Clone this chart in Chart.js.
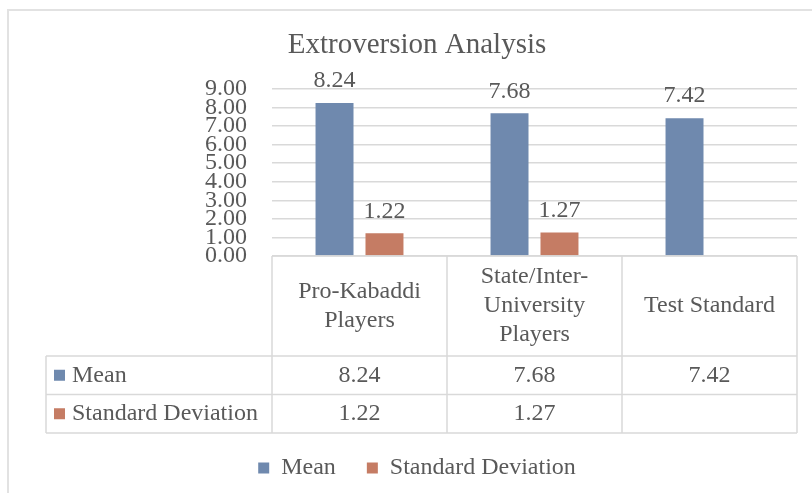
<!DOCTYPE html>
<html>
<head>
<meta charset="utf-8">
<script src="https://cdn.jsdelivr.net/npm/chart.js@4.4.1/dist/chart.umd.min.js"></script>
<style>
  html, body { margin: 0; padding: 0; background: #ffffff; }
  #wrap { width: 812px; height: 493px; position: relative; }
</style>
</head>
<body>
<div id="wrap"><canvas id="chart" width="812" height="493"></canvas></div>
<script>
// Groups compared (multi-line labels as shown in the table header)
const categories = [
  ['Pro-Kabaddi', 'Players'],
  ['State/Inter-', 'University', 'Players'],
  ['Test Standard']
];
const seriesNames = ['Mean', 'Standard Deviation'];
const meanValues = [8.24, 7.68, 7.42];
const sdValues = [1.22, 1.27, null];
const yTickValues = [0, 1, 2, 3, 4, 5, 6, 7, 8, 9];

const TEXT = '#595959';
const LINE = '#d9d9d9';
const SERIF = "'Liberation Serif', 'Times New Roman', serif";
const COLORS = ['#6f89ae', '#c57c64'];

Chart.defaults.font.family = SERIF;
Chart.defaults.color = TEXT;

const fmt = v => (v === null || v === undefined) ? '' : Number(v).toFixed(2);

// Outer frame of the chart object
const framePlugin = {
  id: 'frame',
  beforeDraw(chart) {
    const ctx = chart.ctx;
    ctx.save();
    ctx.strokeStyle = '#e2e2e2';
    ctx.lineWidth = 2;
    ctx.beginPath();
    ctx.moveTo(8, chart.height);
    ctx.lineTo(8, 10);
    ctx.lineTo(chart.width, 10);
    ctx.stroke();
    ctx.restore();
  }
};

// Value labels above each bar
const valueLabels = {
  id: 'valueLabels',
  afterDatasetsDraw(chart) {
    const ctx = chart.ctx;
    ctx.save();
    ctx.font = '24px ' + SERIF;
    ctx.fillStyle = TEXT;
    ctx.textAlign = 'center';
    ctx.textBaseline = 'middle';
    chart.data.datasets.forEach((ds, di) => {
      const meta = chart.getDatasetMeta(di);
      meta.data.forEach((bar, i) => {
        const v = ds.data[i];
        if (v === null || v === undefined) return;
        ctx.fillText(fmt(v), bar.x, bar.y - 22);
      });
    });
    ctx.restore();
  }
};

// Data table under the plot, aligned with the category axis
const dataTable = {
  id: 'dataTable',
  afterDraw(chart) {
    const ctx = chart.ctx;
    const x = chart.scales.x;
    const area = chart.chartArea;
    const colW = (area.right - area.left) / categories.length;
    const top = area.bottom;
    const headBottom = top + 100;
    const rowH = 38.5;
    const rows = [meanValues, sdValues];
    const tableBottom = headBottom + rowH * rows.length;
    const labelLeft = 46;

    ctx.save();
    ctx.strokeStyle = LINE;
    ctx.lineWidth = 1.5;
    ctx.beginPath();
    // horizontal rules
    ctx.moveTo(area.left, top); ctx.lineTo(area.right, top);
    for (let r = 0; r <= rows.length; r++) {
      const y = headBottom + rowH * r;
      ctx.moveTo(labelLeft, y); ctx.lineTo(area.right, y);
    }
    // vertical rules
    for (let c = 0; c <= categories.length; c++) {
      const xx = area.left + colW * c;
      ctx.moveTo(xx, top); ctx.lineTo(xx, tableBottom);
    }
    ctx.moveTo(labelLeft, headBottom); ctx.lineTo(labelLeft, tableBottom);
    ctx.stroke();

    ctx.fillStyle = TEXT;
    ctx.font = '24px ' + SERIF;
    ctx.textBaseline = 'middle';
    ctx.textAlign = 'center';
    // header: category names
    categories.forEach((lines, i) => {
      const cx = x.getPixelForValue(i);
      const cy = (top + headBottom) / 2;
      const lh = 29;
      lines.forEach((t, k) => {
        ctx.fillText(t, cx, cy + (k - (lines.length - 1) / 2) * lh);
      });
    });
    // body rows
    rows.forEach((vals, r) => {
      const cy = headBottom + rowH * r + rowH / 2;
      ctx.textAlign = 'center';
      ctx.fillStyle = TEXT;
      vals.forEach((v, i) => {
        ctx.fillText(fmt(v), x.getPixelForValue(i), cy);
      });
      ctx.fillStyle = COLORS[r];
      ctx.fillRect(54, cy - 5.5, 11, 11);
      ctx.fillStyle = TEXT;
      ctx.textAlign = 'left';
      ctx.fillText(seriesNames[r], 72, cy);
    });
    ctx.restore();
  }
};

new Chart(document.getElementById('chart'), {
  type: 'bar',
  data: {
    labels: categories.map(c => c.join(' ')),
    datasets: [
      { label: seriesNames[0], data: meanValues, backgroundColor: COLORS[0],
        categoryPercentage: 0.571, barPercentage: 0.76 },
      { label: seriesNames[1], data: sdValues, backgroundColor: COLORS[1],
        categoryPercentage: 0.571, barPercentage: 0.76 }
    ]
  },
  options: {
    responsive: false,
    animation: false,
    devicePixelRatio: 1,
    layout: { padding: { left: 22, right: 0, top: 0, bottom: 3 } },
    plugins: {
      title: {
        display: true,
        text: 'Extroversion Analysis',
        color: TEXT,
        font: { size: 29, weight: 'normal', family: SERIF },
        padding: { top: 28, bottom: 26 }
      },
      legend: {
        position: 'bottom',
        labels: {
          boxWidth: 11, boxHeight: 11, padding: 31,
          color: TEXT, font: { size: 24, family: SERIF }
        }
      },
      tooltip: { enabled: false }
    },
    scales: {
      x: {
        ticks: { display: false },
        grid: { display: false },
        border: { display: false },
        afterFit(s) { s.height = 169; }
      },
      y: {
        min: yTickValues[0],
        max: yTickValues[yTickValues.length - 1],
        afterBuildTicks(s) { s.ticks = yTickValues.map(v => ({ value: v })); },
        ticks: {
          stepSize: 1, autoSkip: false, padding: 25, color: TEXT,
          font: { size: 24, family: SERIF },
          callback: v => fmt(v)
        },
        grid: { color: LINE, lineWidth: 1.5, drawTicks: false },
        border: { display: false },
        afterFit(s) { s.width = 250; }
      },
      yR: {
        type: 'linear',
        position: 'right',
        grid: { display: false },
        ticks: { display: false },
        border: { display: false },
        afterFit(s) { s.width = 15; }
      }
    }
  },
  plugins: [framePlugin, valueLabels, dataTable]
});
</script>
</body>
</html>
